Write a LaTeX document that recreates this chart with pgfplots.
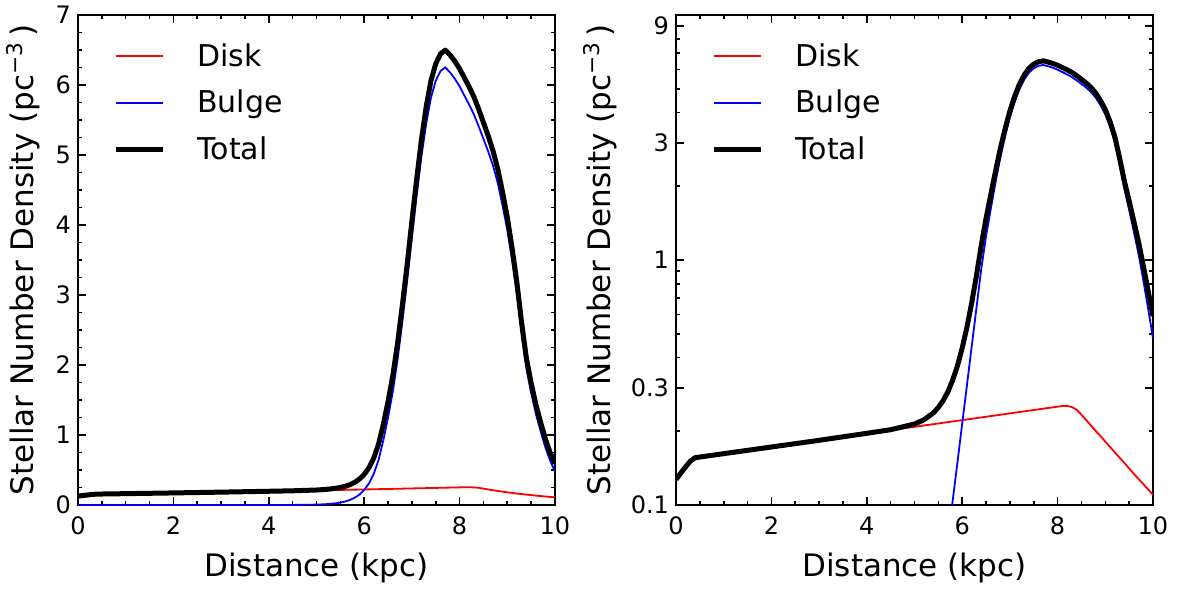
\documentclass[border=0pt]{standalone}
\usepackage{fontspec}
\setmainfont{DejaVu Sans}
\usepackage{pgfplots}
\pgfplotsset{compat=1.18}
\usepackage{pgfplotstable}

\pgfplotstableread{
x disk bulge total
0.0 0.127 1e-9 0.127
0.1 0.135 1e-9 0.135
0.2 0.143 1e-9 0.143
0.3 0.151 1e-9 0.151
0.4 0.156 1e-9 0.156
1.0 0.162 1e-8 0.162
2.0 0.1725 1e-7 0.1725
3.0 0.1837 4e-6 0.1837
4.0 0.196 0.00015 0.1962
4.5 0.202 0.0009 0.2029
5.0 0.2085 0.0056 0.2141
5.2 0.2112 0.0117 0.2229
5.4 0.2138 0.0242 0.2380
5.5 0.2152 0.035 0.2502
5.6 0.2165 0.050 0.2665
5.7 0.2179 0.072 0.2899
5.8 0.2193 0.104 0.3233
5.9 0.2207 0.149 0.3697
6.0 0.2221 0.215 0.4371
6.1 0.2235 0.309 0.5325
6.2 0.2249 0.445 0.6699
6.3 0.2263 0.64 0.8663
6.4 0.2278 0.92 1.1478
6.5 0.2292 1.25 1.4792
6.6 0.2307 1.62 1.8507
6.7 0.2321 2.08 2.3121
6.8 0.2336 2.62 2.8536
6.9 0.2351 3.20 3.4351
7.0 0.2366 3.82 4.0566
7.1 0.2381 4.42 4.6581
7.2 0.2396 4.98 5.2196
7.3 0.2411 5.45 5.6911
7.4 0.2426 5.82 6.0626
7.5 0.2442 6.06 6.3042
7.6 0.2457 6.20 6.4457
7.7 0.2473 6.25 6.4973
7.8 0.2489 6.18 6.4289
7.9 0.2504 6.09 6.3404
8.0 0.2520 5.98 6.2320
8.1 0.2535 5.85 6.1035
8.2 0.2540 5.72 5.9740
8.3 0.2510 5.58 5.8310
8.4 0.2450 5.41 5.6550
8.5 0.2335 5.23 5.4635
8.6 0.2220 5.05 5.2720
8.7 0.2110 4.85 5.0610
8.8 0.2005 4.60 4.8005
8.9 0.1910 4.28 4.4710
9.0 0.1815 3.93 4.1115
9.1 0.1725 3.50 3.6725
9.2 0.1640 3.02 3.1840
9.3 0.1560 2.45 2.6060
9.4 0.1485 1.95 2.0985
9.5 0.1410 1.60 1.7410
9.6 0.1340 1.30 1.4340
9.7 0.1275 1.05 1.1775
9.8 0.1216 0.82 0.9416
9.9 0.1157 0.63 0.7457
10.0 0.1100 0.48 0.5900
}\data

\pgfplotsset{
  mystyle/.style={
    scale only axis, width=238.5pt, height=245pt,
    xmin=0, xmax=10, xtick={0,2,...,10}, minor xtick={0,0.5,...,10},
    tick align=inside, major tick length=4pt, minor tick length=2pt,
    every tick/.style={black, line width=0.8pt},
    axis line style={line width=1pt},
    tick label style={font=\fontsize{12}{14}\selectfont},
    xticklabel style={yshift=-2.5pt},
    label style={font=\fontsize{15.5}{18}\selectfont},
    /pgf/number format/assume math mode=true,
    xlabel={Distance (kpc)},
    ylabel={Stellar Number Density (pc\textsuperscript{−3}\,)},
    xlabel style={at={(axis description cs:0.5,-0.128)}, anchor=center},
    legend cell align=left,
    legend style={at={(axis description cs:0,1)}, anchor=north west,
      xshift=17.5pt, yshift=-14pt, draw=none, fill=none,
      font=\fontsize{15}{18}\selectfont, column sep=16pt, row sep=10.5pt,
      inner sep=0pt, nodes={inner sep=0pt},
      column 2/.style={nodes={text height=11pt, text depth=0pt}}},
    legend image code/.code={\draw[##1] (0pt,0pt) -- (23.5pt,0pt);},
  }
}

\begin{document}
\begin{tikzpicture}
\useasboundingbox (-39pt,-42.5pt) rectangle (553.5pt,252.5pt);
\begin{axis}[mystyle, at={(0pt,0pt)}, anchor=south west,
  ymin=0, ymax=7, ytick={0,1,...,7}, minor ytick={0,0.25,...,7},
  ylabel style={at={(axis description cs:-0.115,0.5)}, anchor=center}]
\addplot[red, line width=0.9pt] table[x=x, y=disk] {\data};
\addlegendentry{Disk}
\addplot[blue, line width=0.9pt] table[x=x, y=bulge] {\data};
\addlegendentry{Bulge}
\addplot[black, line width=2.5pt, line join=round] table[x=x, y=total] {\data};
\addlegendentry{Total}
\end{axis}
\begin{axis}[mystyle, at={(299pt,0pt)}, anchor=south west,
  ymode=log, ymin=0.1, ymax=10, ytick={0.1,0.3,1,3,9},
  yticklabels={0.1,0.3,1,3,9},
  minor ytick={0.2,0.4,0.5,0.6,0.7,0.8,0.9,2,4,5,6,7,8},
  ylabel style={at={(axis description cs:-0.159,0.5)}, anchor=center}]
\addplot[red, line width=0.9pt] table[x=x, y=disk] {\data};
\addlegendentry{Disk}
\addplot[blue, line width=0.9pt] table[x=x, y=bulge] {\data};
\addlegendentry{Bulge}
\addplot[black, line width=2.5pt, line join=round] table[x=x, y=total] {\data};
\addlegendentry{Total}
\end{axis}
\end{tikzpicture}
\end{document}
